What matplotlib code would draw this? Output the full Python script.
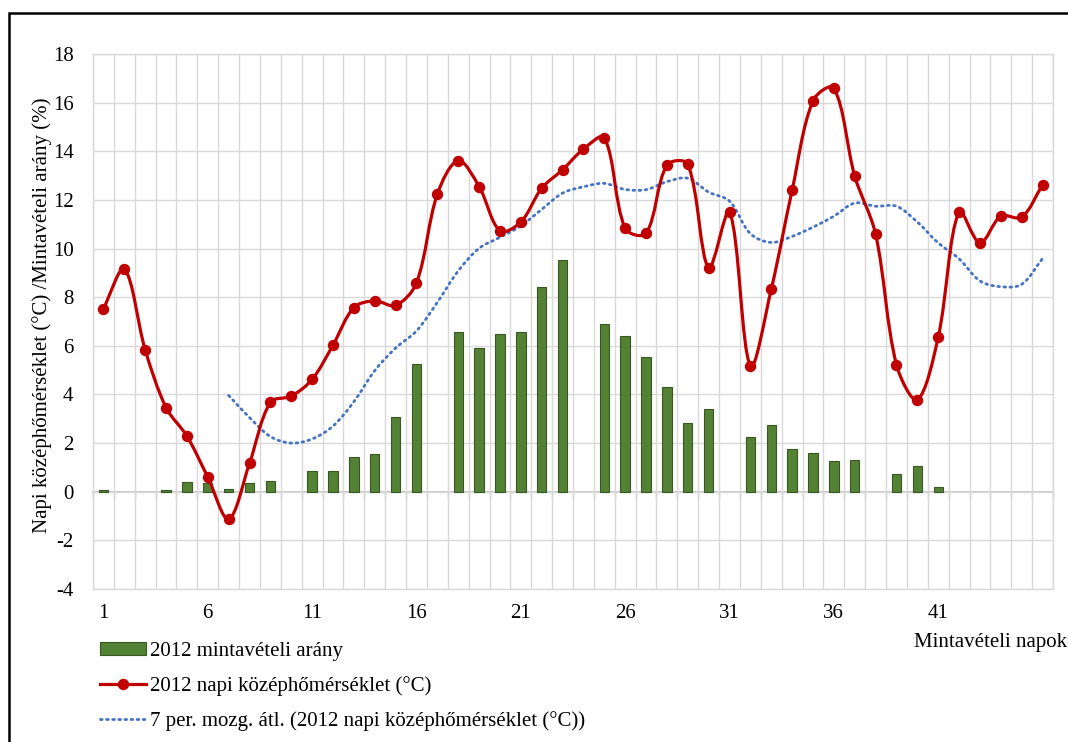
import matplotlib
matplotlib.use("Agg")
import matplotlib.pyplot as plt
from matplotlib.path import Path
from matplotlib.patches import PathPatch, Patch, Rectangle
from matplotlib.lines import Line2D
from matplotlib.ticker import MultipleLocator, FixedLocator
import numpy as np

plt.rcParams['font.family'] = ['Liberation Serif', 'DejaVu Serif']
plt.rcParams['axes.unicode_minus'] = False

days = list(range(1, 47))
temp = [7.53, 9.15, 5.84, 3.46, 2.29, 0.60, -1.13, 1.17, 3.68, 3.93,
        4.62, 6.03, 7.57, 7.85, 7.66, 8.59, 12.24, 13.62, 12.55, 10.73,
        11.09, 12.48, 13.24, 14.09, 14.56, 10.83, 10.62, 13.43, 13.47, 9.21,
        11.52, 5.17, 8.33, 12.40, 16.08, 16.60, 12.98, 10.59, 5.22, 3.78,
        6.36, 11.52, 10.23, 11.33, 11.29, 12.62]
ratio = [0.07, 0, 0, 0.07, 0.38, 0.35, 0.12, 0.35, 0.44, 0,
         0.87, 0.87, 1.41, 1.57, 3.08, 5.26, 0, 6.57, 5.90, 6.48,
         6.57, 8.41, 9.51, 0, 6.91, 6.42, 5.54, 4.31, 2.82, 3.41,
         0, 2.23, 2.75, 1.75, 1.60, 1.26, 1.32, 0, 0.73, 1.06,
         0.18, 0, 0, 0, 0, 0]
ma_days = list(range(7, 47))
ma7 = [3.96, 3.05, 2.27, 2.00, 2.17, 2.70, 3.70, 4.98, 5.91, 6.61,
       7.79, 9.08, 10.01, 10.46, 10.93, 11.61, 12.28, 12.54, 12.68, 12.43,
       12.42, 12.75, 12.89, 12.32, 11.95, 10.61, 10.25, 10.50, 10.88, 11.33,
       11.87, 11.74, 11.74, 11.09, 10.23, 9.58, 8.67, 8.43, 8.53, 9.59]
xtick_labels = ['1', '6', '11', '16', '21', '26', '31', '36', '41']

lbl_bar = '2012 mintavételi arány'
lbl_temp = '2012 napi középhőmérséklet (°C)'
lbl_ma = '7 per. mozg. átl. (2012 napi középhőmérséklet (°C))'

GREEN = '#548235'
GREEN_EDGE = '#385723'
RED = '#C00000'
BLUE = '#4472C4'
GRID = '#D9D9D9'
FS = 15

# pixel size of one data unit (for screen-space smoothing like Excel)
SX = 960 / 46.0
SY = 535 / 22.0


def smooth_path(xs, ys):
    pts = np.column_stack([xs, ys]).astype(float)
    scr = pts * np.array([SX, SY])
    n = len(pts)

    def d(a, b):
        return float(np.hypot(*(scr[b] - scr[a])))

    verts = [pts[0]]
    codes = [Path.MOVETO]
    for i in range(n - 1):
        i0 = max(i - 1, 0)
        i3 = min(i + 2, n - 1)
        d01 = d(i0, i)
        d12 = d(i, i + 1)
        d23 = d(i + 1, i3)
        c1 = pts[i] + (pts[i + 1] - pts[i0]) * (d12 / (d01 + d12)) / 3.0
        c2 = pts[i + 1] - (pts[i3] - pts[i]) * (d12 / (d12 + d23)) / 3.0
        verts += [c1, c2, pts[i + 1]]
        codes += [Path.CURVE4] * 3
    return Path(verts, codes)


fig = plt.figure(figsize=(10.68, 7.42), dpi=100)
ax = fig.add_axes([93 / 1068, 1 - 589 / 742, 960 / 1068, 535 / 742])

ax.set_xlim(0.5, 46.5)
ax.set_ylim(-4, 18)

bar_x = [d_ for d_, r in zip(days, ratio) if r > 0]
bar_h = [r for r in ratio if r > 0]
ax.bar(bar_x, bar_h, width=0.45, color=GREEN, edgecolor=GREEN_EDGE,
       linewidth=0.8, zorder=3)

ma_patch = PathPatch(smooth_path(ma_days, ma7), fill=False, edgecolor=BLUE,
                     linewidth=2.0, linestyle=(0, (0.6, 1.6)),
                     capstyle='round', zorder=4)
ax.add_patch(ma_patch)

temp_patch = PathPatch(smooth_path(days, temp), fill=False, edgecolor=RED,
                       linewidth=2.3, zorder=5)
ax.add_patch(temp_patch)
ax.plot(days, temp, linestyle='none', marker='o', markersize=7.2,
        color=RED, zorder=6)

# grid
ax.yaxis.set_major_locator(MultipleLocator(2))
ax.xaxis.set_major_locator(FixedLocator([1, 6, 11, 16, 21, 26, 31, 36, 41]))
ax.set_xticklabels(xtick_labels)
ax.xaxis.set_minor_locator(FixedLocator(np.arange(0.5, 47, 1.0)))
ax.grid(which='major', axis='y', color=GRID, linewidth=1.0, zorder=0)
ax.grid(which='minor', axis='x', color=GRID, linewidth=1.0, zorder=0)
ax.set_axisbelow(True)
for s in ax.spines.values():
    s.set_color(GRID)
    s.set_linewidth(1.0)

ax.tick_params(axis='x', which='both', length=0, pad=11, labelsize=FS)
ax.tick_params(axis='y', which='both', length=0, pad=14, labelsize=FS)

# zero axis line with tick marks
zero_pos = 4 / 22
sec = ax.secondary_xaxis(zero_pos)
sec.set_xticks(np.arange(0.5, 47, 1.0))
sec.tick_params(axis='x', direction='out', length=5, color='#BFBFBF',
                labelbottom=False, labeltop=False, top=False, bottom=True,
                width=1.0)
sec.spines['bottom'].set_color('#BFBFBF')
sec.spines['bottom'].set_linewidth(1.2)
sec.spines['top'].set_visible(False)
sec.xaxis.set_ticks_position('bottom')
sec.set_xticklabels([])

fig.text(42 / 1068, 1 - 315 / 742,
         'Napi középhőmérséklet (°C) /Mintavételi arány (%)',
         rotation=90, ha='center', va='center', fontsize=FS)
fig.text(1067 / 1068, 1 - 643 / 742, 'Mintavételi napok',
         ha='right', va='center', fontsize=FS)

handles = [
    Patch(facecolor=GREEN, edgecolor=GREEN_EDGE, linewidth=0.8),
    Line2D([], [], color=RED, linewidth=2.3, marker='o', markersize=7.2),
    Line2D([], [], color=BLUE, linewidth=2.0, linestyle=(0, (0.6, 1.6)),
           dash_capstyle='round'),
]
fig.legend(handles, [lbl_bar, lbl_temp, lbl_ma], loc='upper left',
           bbox_to_anchor=(100 / 1068, 1 - 642 / 742), frameon=False,
           fontsize=FS, handlelength=2.2, handletextpad=0.2,
           labelspacing=0.72, borderaxespad=0, borderpad=0,
           handleheight=0.55)

# chart border
fig.patches.append(Rectangle((8.5 / 1068, -0.1), 1.2, 1 - 12.5 / 742 + 0.1,
                             transform=fig.transFigure, fill=False,
                             edgecolor='black', linewidth=1.8))

fig.savefig('out.png', dpi=100)
